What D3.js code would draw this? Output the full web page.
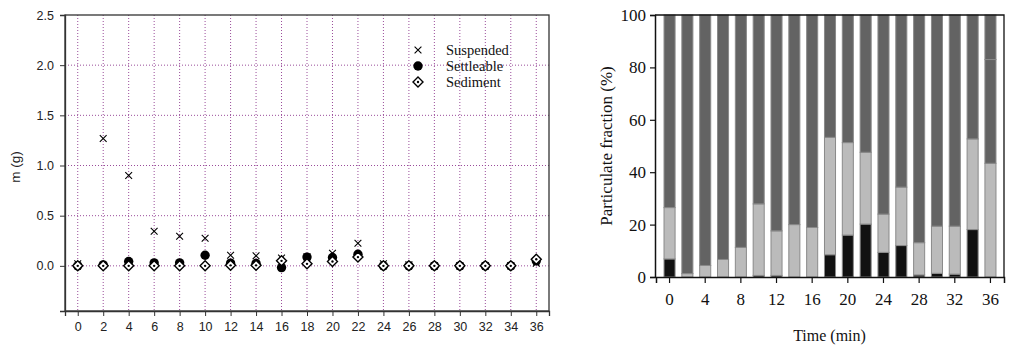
<!DOCTYPE html>
<html>
<head>
<meta charset="utf-8">
<script src="https://cdn.jsdelivr.net/npm/d3@7"></script>
<style>
  html, body { margin: 0; padding: 0; background: #fff; }
  svg { display: block; }
</style>
</head>
<body>
<svg id="chart" width="1011" height="349"></svg>
<script>
// Sampling times (min)
const times = [0, 2, 4, 6, 8, 10, 12, 14, 16, 18, 20, 22, 24, 26, 28, 30, 32, 34, 36];

// Left panel: mass per fraction (g)
const suspended  = [0.02, 1.27, 0.90, 0.345, 0.295, 0.275, 0.106, 0.10, 0.077, 0.09, 0.126, 0.226, 0.02, 0.01, 0.0, 0.0, 0.0, 0.0, 0.027];
const settleable = [0.0, 0.01, 0.043, 0.03, 0.03, 0.106, 0.027, 0.025, -0.017, 0.087, 0.083, 0.116, 0.0, 0.0, 0.0, 0.0, 0.0, 0.0, 0.05];
const sediment   = [0.0, 0.0, 0.0, 0.0, 0.0, 0.0, 0.005, 0.005, 0.05, 0.02, 0.043, 0.087, 0.0, 0.0, 0.0, 0.0, 0.0, 0.0, 0.066];
const massTicks  = [0, 0.5, 1.0, 1.5, 2.0, 2.5];

// Right panel: particulate fraction (%), stacked bottom to top
const fracBlack = [6.9, 0, 0, 0, 0, 0.6, 0.6, 0, 0, 8.5, 16.0, 20.2, 9.4, 12.0, 0.8, 1.4, 1.1, 18.1, 0];
const fracLight = [19.6, 1.3, 4.4, 6.7, 11.3, 27.3, 17.0, 20.0, 18.9, 44.8, 35.3, 27.4, 14.6, 22.3, 12.3, 18.0, 18.3, 34.6, 43.4];
const fracDark  = [73.5, 98.7, 95.6, 93.3, 88.7, 72.1, 82.4, 80.0, 81.1, 46.7, 48.7, 52.4, 76.0, 65.7, 86.9, 80.6, 80.6, 47.3, 39.6];
const fracTop   = [0, 0, 0, 0, 0, 0, 0, 0, 0, 0, 0, 0, 0, 0, 0, 0, 0, 0, 17.0];
const fracTicks = [0, 20, 40, 60, 80, 100];
const timeTicks = [0, 4, 8, 12, 16, 20, 24, 28, 32, 36];

const svg = d3.select("#chart");

// ---------- Left panel: scatter of masses ----------
const L = { left: 65, right: 549, top: 15, bottom: 311 };
const xL = d3.scalePoint().domain(times).range([L.left, L.right]).padding(0.5);
const yL = d3.scaleLinear().domain([-0.45, 2.5]).range([L.bottom, L.top]);

const gridColor = "#9a4c9a";
const gL = svg.append("g");

// grid
gL.append("g").selectAll("line").data(times).join("line")
  .attr("x1", d => xL(d)).attr("x2", d => xL(d))
  .attr("y1", L.top).attr("y2", L.bottom)
  .attr("stroke", gridColor).attr("stroke-width", 1).attr("stroke-dasharray", "1,2");
gL.append("g").selectAll("line").data(massTicks.slice(0, -1)).join("line")
  .attr("x1", L.left).attr("x2", L.right)
  .attr("y1", d => yL(d)).attr("y2", d => yL(d))
  .attr("stroke", gridColor).attr("stroke-width", 1).attr("stroke-dasharray", "1,2");

// frame
gL.append("rect")
  .attr("x", L.left).attr("y", L.top)
  .attr("width", L.right - L.left).attr("height", L.bottom - L.top)
  .attr("fill", "none").attr("stroke", "#333").attr("stroke-width", 1.3);

// axes
const axisFont = "'Liberation Sans', Arial, sans-serif";
const yAxisL = gL.append("g").attr("transform", `translate(${L.left},0)`)
  .call(d3.axisLeft(yL).tickValues(massTicks).tickFormat(d3.format(".1f")).tickSize(5).tickPadding(6));
const xAxisL = gL.append("g").attr("transform", `translate(0,${L.bottom})`)
  .call(d3.axisBottom(xL).tickSize(5).tickPadding(6));
[yAxisL, xAxisL].forEach(a => {
  a.select(".domain").attr("stroke", "#333").attr("stroke-width", 1.3);
  a.selectAll(".tick line").attr("stroke", "#333");
  a.selectAll("text").attr("font-family", axisFont).attr("font-size", 12.5).attr("fill", "#222");
});

gL.append("text")
  .attr("transform", `translate(20,${(L.top + L.bottom) / 2 + 4}) rotate(-90)`)
  .attr("text-anchor", "middle")
  .attr("font-family", axisFont).attr("font-size", 13.5).attr("fill", "#222")
  .text("m (g)");

// markers
function drawCross(g, x, y, r) {
  g.append("path")
    .attr("d", `M${x - r},${y - r}L${x + r},${y + r}M${x - r},${y + r}L${x + r},${y - r}`)
    .attr("stroke", "#000").attr("stroke-width", 1.1).attr("fill", "none");
}
function drawDot(g, x, y) {
  g.append("circle").attr("cx", x).attr("cy", y).attr("r", 4.7).attr("fill", "#000");
}
function drawDiamond(g, x, y) {
  const r = 5;
  g.append("path")
    .attr("d", `M${x},${y - r}L${x + r},${y}L${x},${y + r}L${x - r},${y}Z`)
    .attr("fill", "#fff").attr("stroke", "#000").attr("stroke-width", 1.4);
  g.append("circle").attr("cx", x).attr("cy", y).attr("r", 1.2).attr("fill", "#000");
}

const pts = gL.append("g");
times.forEach((t, i) => drawCross(pts, xL(t), yL(suspended[i]), 3.4));
times.forEach((t, i) => drawDot(pts, xL(t), yL(settleable[i])));
times.forEach((t, i) => drawDiamond(pts, xL(t), yL(sediment[i])));

// legend
const legendFont = "'Liberation Serif', 'Times New Roman', serif";
const legendItems = ["Suspended", "Settleable", "Sediment"];
const leg = gL.append("g");
legendItems.forEach((name, i) => {
  const y = 50 + i * 16;
  if (i === 0) drawCross(leg, 418, y, 3.4);
  if (i === 1) drawDot(leg, 418, y);
  if (i === 2) drawDiamond(leg, 418, y);
  leg.append("text").attr("x", 446).attr("y", y + 4.5)
    .attr("font-family", legendFont).attr("font-size", 14.5).attr("fill", "#111")
    .text(name);
});

// ---------- Right panel: stacked fraction bars ----------
const R = { left: 655, right: 1004, top: 15, bottom: 277 };
const xR = d3.scaleBand().domain(times).range([R.left + 1, R.right]).paddingInner(0.38).paddingOuter(0.45);
const yR = d3.scaleLinear().domain([0, 100]).range([R.bottom, R.top]);

const layers = [
  { values: fracBlack, fill: "#111111" },
  { values: fracLight, fill: "#bbbbbb" },
  { values: fracDark,  fill: "#636363" },
  { values: fracTop,   fill: "#636363" }
];
const gR = svg.append("g");
const base = times.map(() => 0);
layers.forEach(layer => {
  times.forEach((t, i) => {
    const v = layer.values[i];
    if (v > 0) {
      gR.append("rect")
        .attr("x", xR(t)).attr("width", xR.bandwidth())
        .attr("y", yR(base[i] + v)).attr("height", yR(base[i]) - yR(base[i] + v))
        .attr("fill", layer.fill).attr("stroke", "#8a8a8a").attr("stroke-width", 1);
    }
    base[i] += v;
  });
});

// frame top/right
gR.append("path")
  .attr("d", `M${R.left},${R.top}H${R.right}V${R.bottom}`)
  .attr("fill", "none").attr("stroke", "#111").attr("stroke-width", 1.3);

const serif = "'Liberation Serif', 'Times New Roman', serif";
const yAxisR = gR.append("g").attr("transform", `translate(${R.left},0)`)
  .call(d3.axisLeft(yR).tickValues(fracTicks).tickSize(5).tickPadding(4));
const xAxisR = gR.append("g").attr("transform", `translate(0,${R.bottom})`)
  .call(d3.axisBottom(xR).tickValues(timeTicks).tickSize(6).tickPadding(10));
[yAxisR, xAxisR].forEach(a => {
  a.select(".domain").attr("stroke", "#111").attr("stroke-width", 1.5);
  a.selectAll(".tick line").attr("stroke", "#111").attr("stroke-width", 1.2);
  a.selectAll("text").attr("font-family", serif).attr("font-size", 17).attr("fill", "#111");
});

gR.append("text")
  .attr("x", (R.left + R.right) / 2).attr("y", 341)
  .attr("text-anchor", "middle")
  .attr("font-family", serif).attr("font-size", 16).attr("fill", "#111")
  .text("Time (min)");
gR.append("text")
  .attr("transform", `translate(612,${(R.top + R.bottom) / 2}) rotate(-90)`)
  .attr("text-anchor", "middle")
  .attr("font-family", serif).attr("font-size", 17).attr("fill", "#111")
  .text("Particulate fraction (%)");
</script>
</body>
</html>
